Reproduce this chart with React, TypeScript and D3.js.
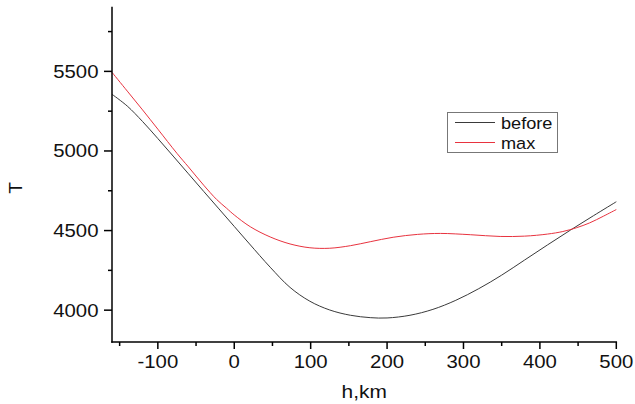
import React from "react";
import * as d3 from "d3";

const hBefore = [-160, -140, -120, -100, -80, -60, -40, -20, 0, 20, 47, 73, 99, 125, 152, 178, 200, 230, 260, 290, 320, 350, 380, 410, 440, 470, 500];
const tBefore = [5356, 5282, 5185, 5078, 4968, 4857, 4746, 4636, 4526, 4416, 4270, 4143, 4056, 4001, 3968, 3953, 3951, 3968, 4005, 4062, 4135, 4220, 4315, 4410, 4503, 4593, 4681];
const hMax = [-160, -140, -120, -100, -75, -60, -40, -23, -10, 0, 21, 47, 73, 99, 125, 152, 178, 208, 240, 270, 309, 348, 380, 410, 430, 448, 465, 483, 500];
const tMax = [5494, 5376, 5258, 5137, 4985, 4900, 4785, 4695, 4640, 4598, 4524, 4460, 4416, 4392, 4389, 4405, 4430, 4458, 4476, 4482, 4474, 4463, 4465, 4478, 4494, 4518, 4548, 4590, 4632];

const xMajor = [-100, 0, 100, 200, 300, 400, 500];
const xMinor = [-150, -50, 50, 150, 250, 350, 450];
const yMajor = [4000, 4500, 5000, 5500];
const yMinor = [4250, 4750, 5250, 5750];
const seriesNames = ["before", "max"];

const W = 635, H = 404;
const left = 112, right = 616.3, top = 7.7, bottom = 342;
const FONT = "'Liberation Sans', Arial, sans-serif";
const SX = 1.1;

function Label(props: { x: number; y: number; size: number; anchor?: string; children: React.ReactNode }) {
  return (
    <text
      transform={`translate(${props.x},${props.y}) scale(${SX},1)`}
      textAnchor={props.anchor || "start"}
      fontFamily={FONT}
      fontSize={props.size}
      fill="#111"
    >
      {props.children}
    </text>
  );
}

export default function App() {
  const x = d3.scaleLinear().domain([-160, 500]).range([left, right]);
  const y = d3.scaleLinear().domain([3800, 5900]).range([bottom, top]);
  const line = d3
    .line<[number, number]>()
    .x((d) => x(d[0]))
    .y((d) => y(d[1]))
    .curve(d3.curveCatmullRom.alpha(0.5));
  const before = hBefore.map((h, i) => [h, tBefore[i]] as [number, number]);
  const mx = hMax.map((h, i) => [h, tMax[i]] as [number, number]);
  const colors = ["#3a3a3a", "#e8333f"];

  return (
    <svg width={W} height={H} style={{ position: "absolute", left: 0, top: 0, background: "#fff" }}>
      <rect x={0} y={0} width={W} height={H} fill="#fff" />
      <path d={line(before) || ""} fill="none" stroke={colors[0]} strokeWidth={1} />
      <path d={line(mx) || ""} fill="none" stroke={colors[1]} strokeWidth={1} />
      {/* axes */}
      <line x1={left} x2={left} y1={top - 1} y2={bottom + 0.75} stroke="#000" strokeWidth={1.5} />
      <line x1={left - 0.75} x2={right + 0.75} y1={bottom} y2={bottom} stroke="#000" strokeWidth={1.5} />
      {xMajor.map((v) => (
        <g key={"xM" + v}>
          <line x1={x(v)} x2={x(v)} y1={bottom} y2={bottom + 7} stroke="#000" strokeWidth={1.5} />
          <Label x={x(v)} y={368} size={18.5} anchor="middle">
            {v}
          </Label>
        </g>
      ))}
      {xMinor.map((v) => (
        <line key={"xm" + v} x1={x(v)} x2={x(v)} y1={bottom} y2={bottom + 4} stroke="#000" strokeWidth={1.5} />
      ))}
      {yMajor.map((v) => (
        <g key={"yM" + v}>
          <line x1={left} x2={left - 8} y1={y(v)} y2={y(v)} stroke="#000" strokeWidth={1.5} />
          <Label x={98.5} y={y(v) + 6.5} size={18.5} anchor="end">
            {v}
          </Label>
        </g>
      ))}
      {yMinor.map((v) => (
        <line key={"ym" + v} x1={left} x2={left - 4} y1={y(v)} y2={y(v)} stroke="#000" strokeWidth={1.5} />
      ))}
      <Label x={(left + right) / 2} y={398} size={19} anchor="middle">
        h,km
      </Label>
      <text
        transform={`translate(22,${188}) rotate(-90)`}
        textAnchor="middle"
        fontFamily={FONT}
        fontSize={19}
        fill="#111"
      >
        T
      </text>
      {/* legend */}
      <rect x={447.5} y={112.5} width={110} height={40} fill="#fff" stroke="#777" strokeWidth={1} />
      {seriesNames.map((n, i) => (
        <g key={n}>
          <line x1={455} x2={495} y1={122.5 + i * 20} y2={122.5 + i * 20} stroke={colors[i]} strokeWidth={1} />
          <Label x={501} y={128.5 + i * 20} size={16.5}>
            {n}
          </Label>
        </g>
      ))}
    </svg>
  );
}
